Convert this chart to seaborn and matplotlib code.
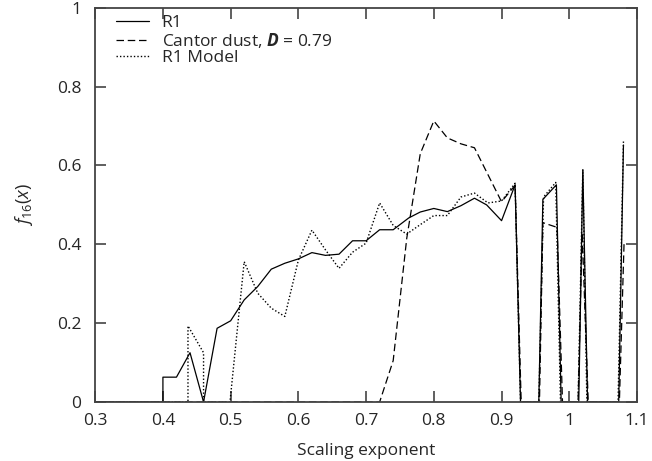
import numpy as np
import pandas as pd
import matplotlib
matplotlib.use("Agg")
import matplotlib.pyplot as plt
import seaborn as sns

# R1 (solid)
r1_x = [0.30, 0.40, 0.40, 0.42, 0.44, 0.46, 0.48, 0.50, 0.52, 0.54, 0.56, 0.58, 0.60,
        0.62, 0.64, 0.66, 0.68, 0.70, 0.72, 0.74, 0.763, 0.78, 0.80, 0.82, 0.84, 0.86,
        0.878, 0.90, 0.92, 0.928, 0.955, 0.961, 0.981, 0.988, 1.014, 1.02, 1.027,
        1.073, 1.08]
r1_y = [0.0, 0.0, 0.063, 0.063, 0.125, 0.0, 0.187, 0.206, 0.259, 0.293, 0.337, 0.352, 0.363,
        0.379, 0.372, 0.375, 0.409, 0.409, 0.437, 0.437, 0.467, 0.482, 0.491, 0.483, 0.498, 0.517,
        0.50, 0.46, 0.551, 0.0, 0.0, 0.514, 0.551, 0.0, 0.0, 0.589, 0.0,
        0.0, 0.652]

# Cantor dust, D = 0.79 (dashed)
cd_x = [0.30, 0.72, 0.74, 0.76, 0.78, 0.80, 0.82, 0.84, 0.86, 0.90, 0.92, 0.929,
        0.956, 0.961, 0.982, 0.99, 1.013, 1.019, 1.028, 1.074, 1.081]
cd_y = [0.0, 0.0, 0.105, 0.415, 0.63, 0.713, 0.67, 0.655, 0.645, 0.508, 0.55, 0.0,
        0.0, 0.455, 0.443, 0.0, 0.0, 0.43, 0.0, 0.0, 0.41]

# R1 Model (dotted)
md_x = [0.30, 0.437, 0.437, 0.46, 0.46, 0.499, 0.52, 0.54, 0.56, 0.58, 0.60, 0.62, 0.64,
        0.66, 0.68, 0.70, 0.72, 0.74, 0.76, 0.78, 0.80, 0.82, 0.84, 0.86, 0.88, 0.90,
        0.92, 0.928, 0.955, 0.962, 0.98, 0.987, 1.013, 1.02, 1.026, 1.072, 1.08]
md_y = [0.0, 0.0, 0.193, 0.125, 0.0, 0.0, 0.356, 0.276, 0.238, 0.217, 0.36, 0.436, 0.386,
        0.339, 0.38, 0.403, 0.505, 0.448, 0.426, 0.45, 0.473, 0.473, 0.52, 0.53, 0.505, 0.51,
        0.555, 0.0, 0.0, 0.52, 0.557, 0.0, 0.0, 0.59, 0.0, 0.0, 0.662]

sns.set_style("ticks")
plt.rcParams['font.family'] = ['Open Sans', 'DejaVu Sans']
plt.rcParams['mathtext.fontset'] = 'custom'
plt.rcParams['mathtext.rm'] = 'Open Sans'
plt.rcParams['mathtext.it'] = 'Open Sans:italic'
plt.rcParams['mathtext.bf'] = 'Open Sans:bold'
plt.rcParams['mathtext.bfit'] = 'Open Sans:bold:italic'

fs = 12.5

fig = plt.figure(figsize=(6.52, 4.61), dpi=100)
ax = fig.add_axes([0.146, 0.128, 0.831, 0.855])

sns.lineplot(x=r1_x, y=r1_y, ax=ax, sort=False, estimator=None, color='black',
             lw=0.9, label='R1')
sns.lineplot(x=cd_x, y=cd_y, ax=ax, sort=False, estimator=None, color='black',
             lw=0.9, dashes=False, label=r'Cantor dust, $\mathbfit{D}$ = 0.79')
sns.lineplot(x=md_x, y=md_y, ax=ax, sort=False, estimator=None, color='black',
             lw=1.0, label='R1 Model')
ax.lines[1].set_dashes((6, 3))
ax.lines[2].set_dashes((1, 1.5))

ax.set_xlim(0.3, 1.1)
ax.set_ylim(0, 1)
ax.set_xticks(np.arange(0.3, 1.11, 0.1))
ax.set_yticks(np.arange(0, 1.01, 0.2))
ax.xaxis.set_major_formatter(matplotlib.ticker.FormatStrFormatter('%g'))
ax.yaxis.set_major_formatter(matplotlib.ticker.FormatStrFormatter('%g'))
ax.tick_params(direction='in', length=8, width=1.2, color='#444444', labelsize=fs,
               top=True, right=True)
ax.tick_params(axis='y', pad=10)
ax.tick_params(axis='x', pad=8)
for s in ax.spines.values():
    s.set_visible(True)
    s.set_color('#444444')
    s.set_linewidth(1.3)

ax.set_xlabel('Scaling exponent', fontsize=fs, labelpad=10)
ax.set_ylabel(r'$\mathit{f}_{16}(\mathit{x})$', fontsize=fs + 0.5, labelpad=16)

leg = ax.legend(loc='upper left', frameon=False, fontsize=fs, handlelength=1.9,
                handletextpad=0.75, labelspacing=0.0, borderaxespad=0.0,
                bbox_to_anchor=(0.025, 1.0))

fig.savefig('out.png', dpi=100)
